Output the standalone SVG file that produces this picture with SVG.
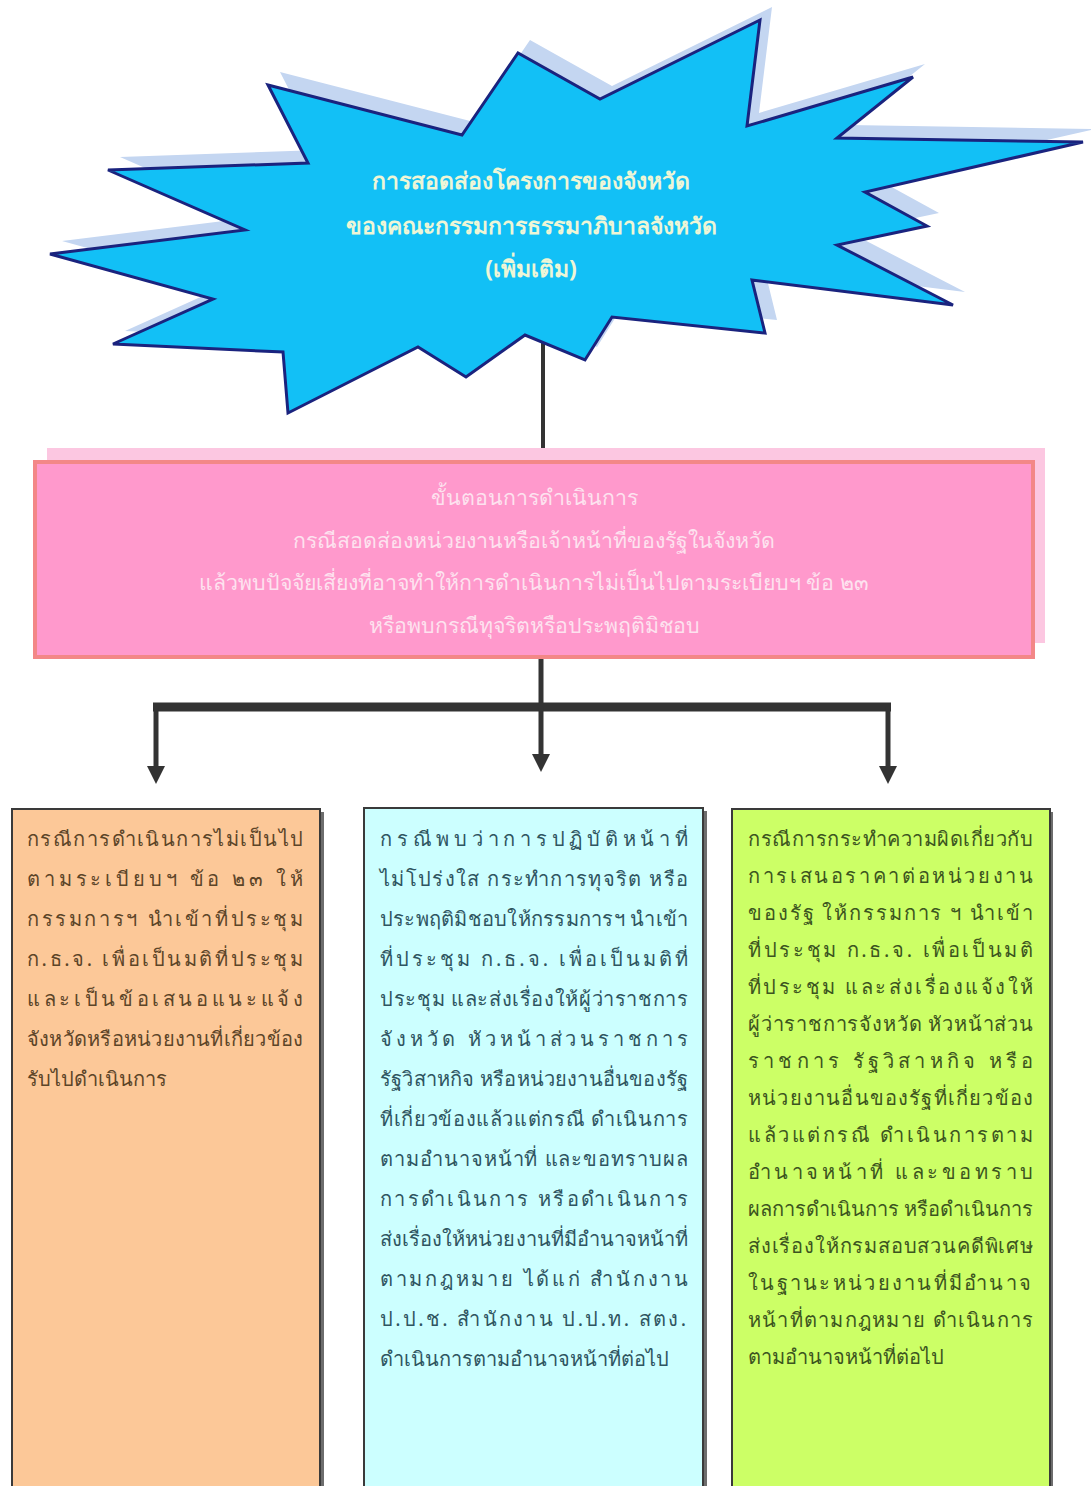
<svg xmlns="http://www.w3.org/2000/svg" width="1091" height="1486" viewBox="0 0 1091 1486">
<style>
.th{font-family:"Noto Sans","DejaVu Sans",sans-serif}
.title{font-size:23px;font-weight:bold;fill:#eef6d6;text-anchor:middle}
.pk{font-size:21.3px;fill:#fde2ef;text-anchor:middle}
.bt{font-size:20px}
.or{fill:#5c4528}
.cy{fill:#2f5561}
.gr{fill:#3c5520}
.box{stroke:#3a3a3a;stroke-width:2}
.sh{fill:#6d6d6d}
.con{stroke:#333;fill:none}
</style>
<defs>
<marker id="ah" viewBox="0 0 18 18" markerWidth="18" markerHeight="18" refX="0" refY="9" orient="auto" markerUnits="userSpaceOnUse"><path d="M0,0 L18,9 L0,18 z" fill="#333"/></marker>
</defs>
<rect width="1091" height="1486" fill="#fff"/>
<g id="connectors">
<path class="con" d="M543,340 V462" stroke-width="4"/>
<path class="con" d="M541,657 V707" stroke-width="5"/>
<path class="con" d="M153,707 H891" stroke-width="9"/>
<path class="con" d="M156,707 V766" stroke-width="5" marker-end="url(#ah)"/>
<path class="con" d="M541,707 V754" stroke-width="5" marker-end="url(#ah)"/>
<path class="con" d="M888,707 V766" stroke-width="5" marker-end="url(#ah)"/>
</g>
<g id="star">
<polygon transform="translate(12,-13)" fill="#c4d6f1" points="268,85 462,135 518,53 600,99 760,20 747,126 913,77 837,138 1083,142 865,192 927,226 837,245 953,305 752,280 765,333 612,317 585,360 525,335 466,377 418,347 288,413 283,352 113,344 213,299 50,254 245,230 108,170 308,163"/>
<polygon fill="#12c0f6" stroke="#1a237e" stroke-width="3" stroke-linejoin="miter" points="268,85 462,135 518,53 600,99 760,20 747,126 913,77 837,138 1083,142 865,192 927,226 837,245 953,305 752,280 765,333 612,317 585,360 525,335 466,377 418,347 288,413 283,352 113,344 213,299 50,254 245,230 108,170 308,163"/>
<text class="th title" x="531" y="189">การสอดส่องโครงการของจังหวัด</text>
<text class="th title" x="531" y="234">ของคณะกรรมการธรรมาภิบาลจังหวัด</text>
<text class="th title" x="531" y="277">(เพิ่มเติม)</text>
</g>
<g id="procedure">
<rect x="47" y="448" width="998" height="195" fill="#fcc7e1"/>
<rect x="35" y="462" width="998" height="195" fill="#ff99cc" stroke="#f38787" stroke-width="4"/>
<text class="th pk" x="534" y="505">ขั้นตอนการดำเนินการ</text>
<text class="th pk" x="534" y="548">กรณีสอดส่องหน่วยงานหรือเจ้าหน้าที่ของรัฐในจังหวัด</text>
<text class="th pk" x="534" y="590">แล้วพบปัจจัยเสี่ยงที่อาจทำให้การดำเนินการไม่เป็นไปตามระเบียบฯ ข้อ ๒๓</text>
<text class="th pk" x="534" y="633">หรือพบกรณีทุจริตหรือประพฤติมิชอบ</text>
</g>
<g id="case-regulation">
<rect class="sh" x="16" y="812" width="308" height="700"/>
<rect class="box" x="12" y="809" width="308" height="700" fill="#fcc898"/>
<g class="th bt or">
<text x="27" y="846" textLength="276" lengthAdjust="spacing">กรณีการดำเนินการไม่เป็นไป</text>
<text x="27" y="886" textLength="276" lengthAdjust="spacing">ตามระเบียบฯ ข้อ ๒๓ ให้</text>
<text x="27" y="926" textLength="276" lengthAdjust="spacing">กรรมการฯ นำเข้าที่ประชุม</text>
<text x="27" y="966" textLength="276" lengthAdjust="spacing">ก.ธ.จ. เพื่อเป็นมติที่ประชุม</text>
<text x="27" y="1006" textLength="276" lengthAdjust="spacing">และเป็นข้อเสนอแนะแจ้ง</text>
<text x="27" y="1046" textLength="276" lengthAdjust="spacing">จังหวัดหรือหน่วยงานที่เกี่ยวข้อง</text>
<text x="27" y="1086">รับไปดำเนินการ</text>
</g>
</g>
<g id="case-misconduct">
<rect class="sh" x="367" y="811" width="340" height="700"/>
<rect class="box" x="364" y="808" width="339" height="700" fill="#ccffff"/>
<g class="th bt cy">
<text x="380" y="846" textLength="308" lengthAdjust="spacing">กรณีพบว่าการปฏิบัติหน้าที่</text>
<text x="380" y="886" textLength="308" lengthAdjust="spacing">ไม่โปร่งใส กระทำการทุจริต หรือ</text>
<text x="380" y="926" textLength="308" lengthAdjust="spacing">ประพฤติมิชอบให้กรรมการฯ นำเข้า</text>
<text x="380" y="966" textLength="308" lengthAdjust="spacing">ที่ประชุม ก.ธ.จ. เพื่อเป็นมติที่</text>
<text x="380" y="1006" textLength="308" lengthAdjust="spacing">ประชุม และส่งเรื่องให้ผู้ว่าราชการ</text>
<text x="380" y="1046" textLength="308" lengthAdjust="spacing">จังหวัด หัวหน้าส่วนราชการ</text>
<text x="380" y="1086" textLength="308" lengthAdjust="spacing">รัฐวิสาหกิจ หรือหน่วยงานอื่นของรัฐ</text>
<text x="380" y="1126" textLength="308" lengthAdjust="spacing">ที่เกี่ยวข้องแล้วแต่กรณี ดำเนินการ</text>
<text x="380" y="1166" textLength="308" lengthAdjust="spacing">ตามอำนาจหน้าที่ และขอทราบผล</text>
<text x="380" y="1206" textLength="308" lengthAdjust="spacing">การดำเนินการ หรือดำเนินการ</text>
<text x="380" y="1246" textLength="308" lengthAdjust="spacing">ส่งเรื่องให้หน่วยงานที่มีอำนาจหน้าที่</text>
<text x="380" y="1286" textLength="308" lengthAdjust="spacing">ตามกฎหมาย ได้แก่ สำนักงาน</text>
<text x="380" y="1326" textLength="306" lengthAdjust="spacing">ป.ป.ช. สำนักงาน ป.ป.ท. สตง.</text>
<text x="380" y="1366">ดำเนินการตามอำนาจหน้าที่ต่อไป</text>
</g>
</g>
<g id="case-bidding">
<rect class="sh" x="735" y="812" width="318" height="700"/>
<rect class="box" x="732" y="809" width="318" height="700" fill="#ccff66"/>
<g class="th bt gr">
<text x="748" y="846" textLength="285" lengthAdjust="spacing">กรณีการกระทำความผิดเกี่ยวกับ</text>
<text x="748" y="883" textLength="285" lengthAdjust="spacing">การเสนอราคาต่อหน่วยงาน</text>
<text x="748" y="920" textLength="285" lengthAdjust="spacing">ของรัฐ ให้กรรมการ ฯ นำเข้า</text>
<text x="748" y="957" textLength="285" lengthAdjust="spacing">ที่ประชุม ก.ธ.จ. เพื่อเป็นมติ</text>
<text x="748" y="994" textLength="285" lengthAdjust="spacing">ที่ประชุม และส่งเรื่องแจ้งให้</text>
<text x="748" y="1031" textLength="285" lengthAdjust="spacing">ผู้ว่าราชการจังหวัด หัวหน้าส่วน</text>
<text x="748" y="1068" textLength="285" lengthAdjust="spacing">ราชการ รัฐวิสาหกิจ หรือ</text>
<text x="748" y="1105" textLength="285" lengthAdjust="spacing">หน่วยงานอื่นของรัฐที่เกี่ยวข้อง</text>
<text x="748" y="1142" textLength="285" lengthAdjust="spacing">แล้วแต่กรณี ดำเนินการตาม</text>
<text x="748" y="1179" textLength="285" lengthAdjust="spacing">อำนาจหน้าที่ และขอทราบ</text>
<text x="748" y="1216" textLength="285" lengthAdjust="spacing">ผลการดำเนินการ หรือดำเนินการ</text>
<text x="748" y="1253" textLength="285" lengthAdjust="spacing">ส่งเรื่องให้กรมสอบสวนคดีพิเศษ</text>
<text x="748" y="1290" textLength="283" lengthAdjust="spacing">ในฐานะหน่วยงานที่มีอำนาจ</text>
<text x="748" y="1327" textLength="285" lengthAdjust="spacing">หน้าที่ตามกฎหมาย ดำเนินการ</text>
<text x="748" y="1364">ตามอำนาจหน้าที่ต่อไป</text>
</g>
</g>
</svg>
